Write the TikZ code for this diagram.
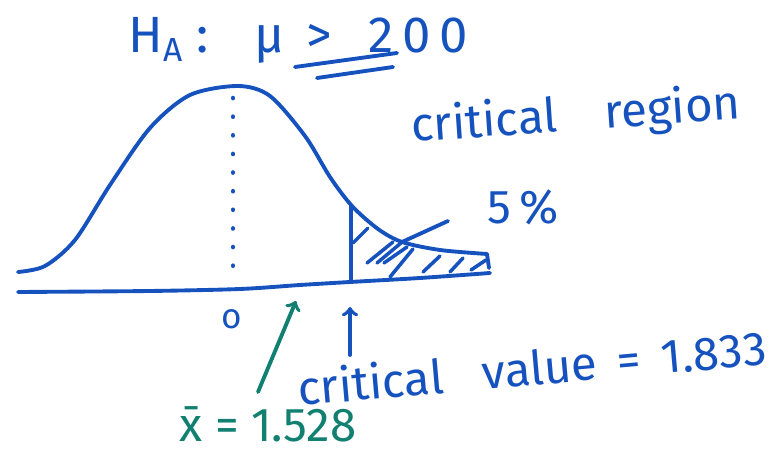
\documentclass[tikz,border=0pt]{standalone}
\usepackage{fontspec}
\setmainfont{Fira Sans}
\usepackage{xcolor}
\usetikzlibrary{positioning}
\definecolor{penblue}{RGB}{22,82,190}
\definecolor{penteal}{RGB}{18,128,112}
\tikzset{
    pen/.style={penblue, line width=2.2pt, line cap=round, line join=round},
    hatch/.style={pen, line width=2pt},
    hand/.style={penblue, font=\fontsize{27}{30}\selectfont, inner sep=0pt}
}

\begin{document}
\begin{tikzpicture}[x=0.02cm, y=-0.02cm]
    \useasboundingbox (0,0) rectangle (769,452);
    % axis and bell curve
    \draw[pen] plot[smooth] coordinates {(18,292) (150,291) (240,289) (300,285) (350,282) (420,278) (490,273)};
    \draw[pen] plot[smooth] coordinates {(18,272) (45,266) (75,240) (110,185) (150,128) (190,95) (238,86) (270,96) (305,136) (330,177) (352,206) (378,229) (402,242) (440,250) (487,254)};
    \draw[pen, line width=2.6pt, dash pattern=on 0.1pt off 10.5pt] (233,98) -- (233,268);
    \coordinate (cvtop) at (351,206);
    \coordinate (cvbot) at (351,282);
    \draw[pen] (cvtop) -- (cvbot);
    \draw[pen] (487,254) -- (489,268);
    % hatching in the tail
    \draw[hatch] (353,243) -- (368,228);
    \draw[hatch] (367,263) -- (393,242);
    \draw[hatch] (377,263) -- (401,243);
    \draw[hatch] (384,263) -- (407,247);
    \draw[hatch] (390,277) -- (413,249);
    \draw[hatch] (423,272) -- (440,256);
    \draw[hatch] (450,272) -- (463,258);
    \draw[hatch] (471,270) -- (486,260);
    % labels
    \node[hand, font=\fontsize{29}{32}\selectfont] (hyp) at (298,40) {H\raisebox{-0.35ex}{\fontsize{19}{20}\selectfont A}\;:\;\; μ\, >\;\, 2\,0\,0};
    \draw[pen] (295,67) -- (397,53);
    \draw[pen] (317,78) -- (393,67);
    \node[hand, rotate=4] (region) at (576,117) {critical\quad region};
    \node[hand] (pct) at (523,207) {5\,\%};
    \coordinate (pctline) at (448,221);
    \coordinate (pctfoot) at (402,242);
    \draw[pen] (pctfoot) -- (pctline);
    \node[hand, font=\fontsize{20}{22}\selectfont] (zero) at (232,319) {o};
    \node[hand, rotate=5] (cval) at (532,367) {critical\;\; value\, =\, 1.833};
    \node[hand, penteal] (xbar) at (268,424) {\=x = 1.528};
    % pointers
    \coordinate (cvtail) at (350,355);
    \coordinate (cvhead) at (350,307);
    \draw[pen, ->] (cvtail) -- (cvhead);
    \coordinate (xbtail) at (258,392);
    \coordinate (xbhead) at (296,301);
    \draw[pen, penteal, ->] (xbtail) -- (xbhead);
\end{tikzpicture}
\end{document}
